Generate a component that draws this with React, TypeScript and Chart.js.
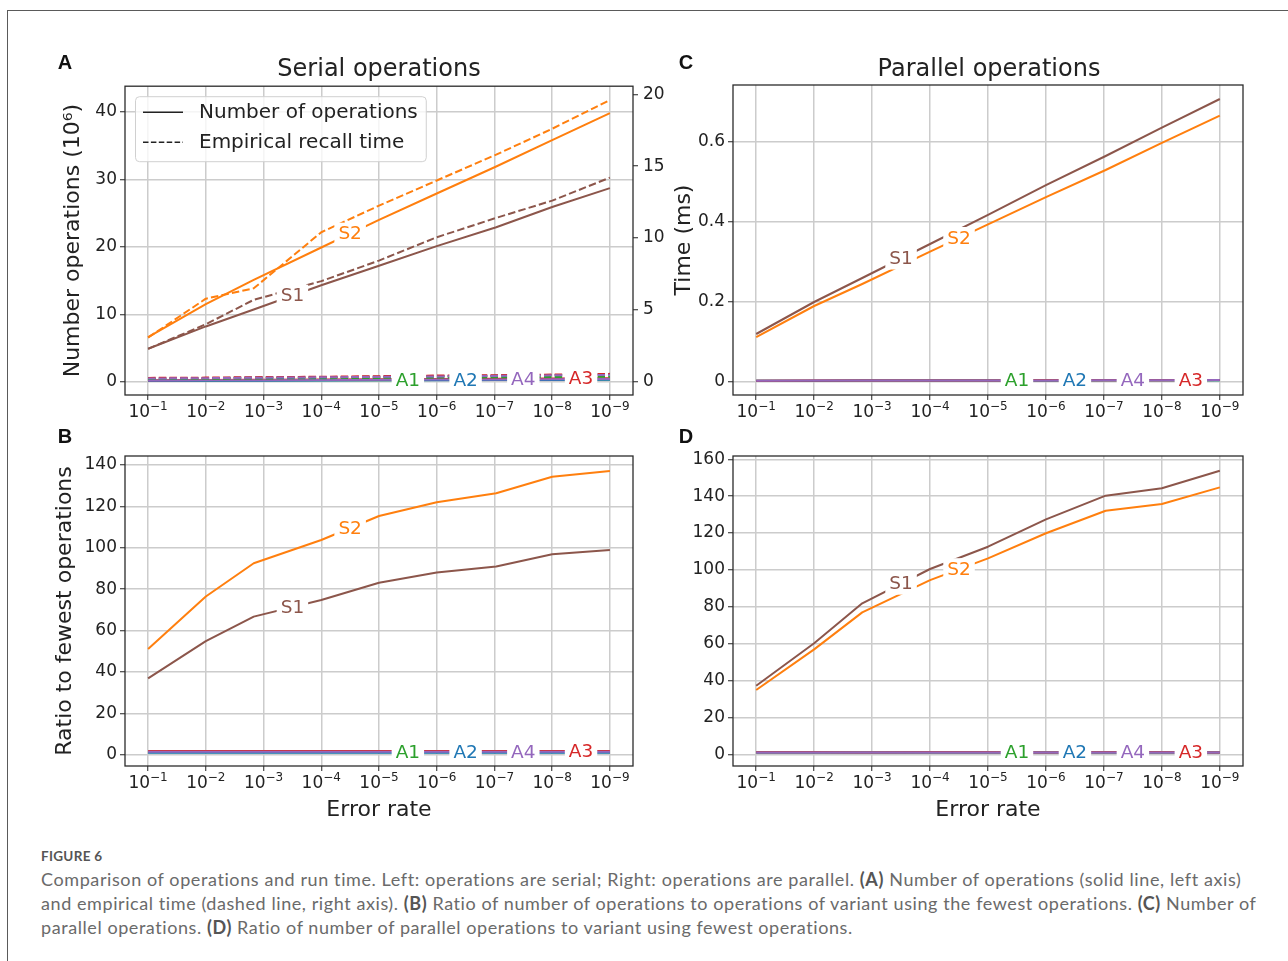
import { useEffect, useLayoutEffect, useRef } from 'react';
import { Chart, registerables } from 'chart.js';

Chart.register(...registerables);

const FONT = '"DejaVu Sans", sans-serif';
const TEXT = '#222222';
const GRID = '#cccccc';

// x = -log10(error rate)
const X = [1, 2, 2.83, 4, 5, 6, 7.03, 8, 9];
const X_TICKS = [1, 2, 3, 4, 5, 6, 7, 8, 9];
const X_TICK_BASE = '10';
const X_TICK_EXP = ['−1', '−2', '−3', '−4', '−5', '−6', '−7', '−8', '−9'];

const COLORS: Record<string, string> = {
  S1: '#8c564b',
  S2: '#ff7f0e',
  A1: '#2ca02c',
  A2: '#1f77b4',
  A3: '#d62728',
  A4: '#9467bd',
};

// Panel A: serial number of operations (10^6), left axis
const A_OPS_A1 = [0.15, 0.17, 0.19, 0.22, 0.24, 0.26, 0.29, 0.31, 0.33];
const A_OPS_A2 = [0.13, 0.15, 0.165, 0.19, 0.21, 0.23, 0.25, 0.27, 0.29];
const A_OPS_A3 = [0.23, 0.27, 0.3, 0.34, 0.38, 0.41, 0.45, 0.49, 0.52];
const A_OPS_A4 = [0.18, 0.21, 0.23, 0.27, 0.29, 0.32, 0.35, 0.38, 0.41];
const A_OPS_S1 = [4.9, 8.2, 10.7, 14.3, 17.2, 20.1, 22.9, 25.9, 28.7];
const A_OPS_S2 = [6.6, 11.5, 15.1, 19.9, 24.0, 27.9, 31.9, 35.8, 39.8];
// Panel A: empirical recall time (ms), right axis
const A_TIME_A1 = [0.2, 0.21, 0.23, 0.25, 0.27, 0.29, 0.31, 0.33, 0.35];
const A_TIME_A2 = [0.24, 0.26, 0.29, 0.32, 0.35, 0.39, 0.43, 0.47, 0.52];
const A_TIME_A3 = [0.27, 0.29, 0.32, 0.35, 0.39, 0.43, 0.46, 0.5, 0.55];
const A_TIME_A4 = [0.23, 0.25, 0.28, 0.31, 0.34, 0.37, 0.41, 0.45, 0.48];
const A_TIME_S1 = [2.29, 4.0, 5.7, 7.0, 8.43, 10.05, 11.4, 12.6, 14.2];
const A_TIME_S2 = [3.07, 5.78, 6.5, 10.4, 12.25, 14.0, 15.8, 17.6, 19.6];

// Panel B: ratio to fewest serial operations
const B_A1 = [1.15, 1.13, 1.15, 1.16, 1.14, 1.13, 1.16, 1.15, 1.14];
const B_A2 = [1, 1, 1, 1, 1, 1, 1, 1, 1];
const B_A3 = [1.8, 1.8, 1.82, 1.79, 1.81, 1.78, 1.8, 1.81, 1.79];
const B_A4 = [1.4, 1.4, 1.39, 1.42, 1.38, 1.39, 1.4, 1.41, 1.41];
const B_S1 = [36.9, 54.9, 66.7, 74.7, 83.1, 88.0, 90.9, 96.8, 98.9];
const B_S2 = [51.1, 76.4, 92.5, 103.7, 115.3, 122.0, 126.3, 134.3, 137.1];

// Panel C: parallel operations
const C_A1 = [0.0032, 0.0034, 0.0035, 0.0036, 0.0038, 0.0039, 0.0041, 0.0044, 0.0046];
const C_A2 = [0.0032, 0.0034, 0.0035, 0.0036, 0.0038, 0.0039, 0.0041, 0.0044, 0.0046];
const C_A3 = [0.0034, 0.0036, 0.0037, 0.0038, 0.004, 0.0041, 0.0043, 0.0046, 0.0048];
const C_A4 = [0.0033, 0.0035, 0.0036, 0.0037, 0.0039, 0.004, 0.0042, 0.0045, 0.0047];
const C_S1 = [0.12, 0.2, 0.26, 0.345, 0.418, 0.492, 0.565, 0.636, 0.7075];
const C_S2 = [0.112, 0.19, 0.245, 0.326, 0.394, 0.462, 0.53, 0.598, 0.666];

// Panel D: ratio to fewest parallel operations
const D_A1 = [1, 1, 1, 1, 1, 1, 1, 1, 1];
const D_A2 = [1, 1, 1, 1, 1, 1, 1, 1, 1];
const D_A3 = [1.05, 1.05, 1.04, 1.05, 1.05, 1.04, 1.05, 1.05, 1.04];
const D_A4 = [1.02, 1.02, 1.02, 1.03, 1.02, 1.02, 1.02, 1.03, 1.02];
const D_S1 = [37.2, 60.2, 81.9, 100.5, 112.6, 127.4, 140.3, 144.3, 153.8];
const D_S2 = [34.9, 56.9, 77.0, 94.5, 106.3, 119.9, 132.1, 135.8, 144.8];

// Axis ticks
const A_Y_TICKS = [0, 10, 20, 30, 40];
const A_Y2_TICKS = [0, 5, 10, 15, 20];
const B_Y_TICKS = [0, 20, 40, 60, 80, 100, 120, 140];
const C_Y_TICKS = [0, 0.2, 0.4, 0.6];
const C_Y_TICK_LABELS = ['0', '0.2', '0.4', '0.6'];
const D_Y_TICKS = [0, 20, 40, 60, 80, 100, 120, 140, 160];

// Inline line labels (name, position along x)
const LABEL_NAMES = ['S1', 'S2', 'A1', 'A2', 'A4', 'A3'];
const LABEL_X = [3.5, 4.5, 5.5, 6.5, 7.5, 8.5];

const LEGEND_LABELS = ['Number of operations', 'Empirical recall time'];

const TITLE_A = 'Serial operations';
const TITLE_C = 'Parallel operations';
const Y_TITLE_A = 'Number operations (10⁶)';
const Y2_TITLE_A = 'Time (ms)';
const Y_TITLE_B = 'Ratio to fewest operations';
const X_TITLE = 'Error rate';

const CAPTION_HEAD = 'FIGURE 6';
const CAPTION_TARGET_WIDTHS = [1201, 1217, 813];

const tickFont = { family: FONT, size: 17, lineHeight: 1.2 };
const axisTitleFont = { family: FONT, size: 22, lineHeight: 1.2 };

function line(name: string, values: number[], axis = 'y', dashed = false) {
  return {
    label: dashed ? name + ' time' : name,
    data: X.map((x, i) => ({ x, y: values[i] })),
    borderColor: COLORS[name],
    backgroundColor: COLORS[name],
    borderWidth: 2,
    borderDash: dashed ? [7.5, 3.2] : [],
    borderJoinStyle: 'round',
    pointRadius: 0,
    pointHoverRadius: 0,
    tension: 0,
    fill: false,
    yAxisID: axis,
  };
}

function withOrder(list: any[]) {
  return list.map((d, i) => ({ ...d, order: list.length - i }));
}

function xScale(height: number, showTitle: boolean) {
  return {
    type: 'linear',
    position: 'bottom',
    min: 0.6,
    max: 9.4,
    afterBuildTicks: (s: any) => {
      s.ticks = X_TICKS.map((v) => ({ value: v }));
    },
    afterFit: (s: any) => {
      s.height = height;
    },
    ticks: {
      display: false,
      autoSkip: false,
      maxRotation: 0,
      minRotation: 0,
    },
    grid: { color: GRID, lineWidth: 1.5, tickColor: TEXT, tickLength: 5, tickWidth: 1 },
    border: { display: false },
    title: {
      display: showTitle,
      text: X_TITLE,
      font: axisTitleFont,
      color: TEXT,
      padding: { top: 0, bottom: 0 },
    },
  };
}

function yScale(
  min: number,
  max: number,
  ticks: number[],
  labels: string[] | null,
  width: number,
  title: string | null,
  titlePad: number
) {
  return {
    type: 'linear',
    position: 'left',
    min,
    max,
    afterBuildTicks: (s: any) => {
      s.ticks = ticks.map((v) => ({ value: v }));
    },
    afterFit: (s: any) => {
      s.width = width;
    },
    ticks: {
      callback: (v: any, i: number) => (labels ? labels[i] : String(v)),
      font: tickFont,
      color: TEXT,
      padding: 3,
      autoSkip: false,
    },
    grid: { color: GRID, lineWidth: 1.5, tickColor: TEXT, tickLength: 5, tickWidth: 1 },
    border: { display: false },
    title: {
      display: !!title,
      text: title || '',
      font: axisTitleFont,
      color: TEXT,
      padding: { top: titlePad, bottom: 0 },
    },
  };
}

function interpolate(data: { x: number; y: number }[], x: number) {
  for (let i = 0; i < data.length - 1; i++) {
    if (x >= data[i].x && x <= data[i + 1].x) {
      const t = (x - data[i].x) / (data[i + 1].x - data[i].x);
      return data[i].y + t * (data[i + 1].y - data[i].y);
    }
  }
  return data[data.length - 1].y;
}

function lineLabelsPlugin() {
  return {
    id: 'lineLabels',
    afterDatasetsDraw(chart: any) {
      const ctx = chart.ctx as CanvasRenderingContext2D;
      ctx.save();
      ctx.font = `18.5px ${FONT}`;
      ctx.textAlign = 'center';
      ctx.textBaseline = 'middle';
      LABEL_NAMES.forEach((name, k) => {
        const ds = chart.data.datasets.find((d: any) => d.label === name);
        if (!ds) return;
        const xv = LABEL_X[k];
        const yv = interpolate(ds.data, xv);
        const px = chart.scales.x.getPixelForValue(xv);
        const py = chart.scales[ds.yAxisID].getPixelForValue(yv);
        const w = ctx.measureText(name).width;
        ctx.fillStyle = '#ffffff';
        ctx.fillRect(px - w / 2 - 4, py - 11, w + 8, 22);
        ctx.fillStyle = ds.borderColor;
        ctx.fillText(name, px, py + 1);
      });
      ctx.restore();
    },
  };
}

// x tick labels drawn as "10" with a raised, smaller exponent (like mathtext)
const xTickLabelsPlugin = {
  id: 'xTickLabels',
  afterDraw(chart: any) {
    const ctx = chart.ctx as CanvasRenderingContext2D;
    const xs = chart.scales.x;
    const baseY = chart.chartArea.bottom + 22;
    ctx.save();
    ctx.fillStyle = TEXT;
    ctx.textBaseline = 'alphabetic';
    ctx.textAlign = 'left';
    X_TICKS.forEach((v, i) => {
      const px = xs.getPixelForValue(v);
      ctx.font = `17px ${FONT}`;
      const wb = ctx.measureText(X_TICK_BASE).width;
      ctx.font = `12px ${FONT}`;
      const ws = ctx.measureText(X_TICK_EXP[i]).width;
      const left = px - (wb + ws) / 2;
      ctx.font = `17px ${FONT}`;
      ctx.fillText(X_TICK_BASE, left, baseY);
      ctx.font = `12px ${FONT}`;
      ctx.fillText(X_TICK_EXP[i], left + wb, baseY - 7.5);
    });
    ctx.restore();
  },
};

const framePlugin = {
  id: 'frame',
  afterDraw(chart: any) {
    const { ctx, chartArea: ca } = chart;
    ctx.save();
    ctx.strokeStyle = '#2b2b2b';
    ctx.lineWidth = 1.3;
    ctx.strokeRect(ca.left, ca.top, ca.right - ca.left, ca.bottom - ca.top);
    ctx.restore();
  },
};

const legendPlugin = {
  id: 'serialLegend',
  afterDraw(chart: any) {
    const { chartArea: ca } = chart;
    const ctx = chart.ctx as CanvasRenderingContext2D;
    ctx.save();
    ctx.font = `20px ${FONT}`;
    const tw = Math.max(...LEGEND_LABELS.map((t) => ctx.measureText(t).width));
    const bx = ca.left + 10;
    const by = ca.top + 10;
    const bw = 8 + 40 + 16 + tw + 8;
    const bh = 65;
    ctx.beginPath();
    if ((ctx as any).roundRect) (ctx as any).roundRect(bx + 0.5, by + 0.5, bw, bh, 4);
    else ctx.rect(bx + 0.5, by + 0.5, bw, bh);
    ctx.fillStyle = 'rgba(255,255,255,0.8)';
    ctx.fill();
    ctx.strokeStyle = '#d0d0d0';
    ctx.lineWidth = 1;
    ctx.stroke();
    LEGEND_LABELS.forEach((t, i) => {
      const cy = by + 16 + i * 30;
      ctx.beginPath();
      ctx.setLineDash(i === 0 ? [] : [5.5, 2.4]);
      ctx.strokeStyle = '#222';
      ctx.lineWidth = 1.6;
      ctx.moveTo(bx + 8, cy);
      ctx.lineTo(bx + 48, cy);
      ctx.stroke();
      ctx.setLineDash([]);
      ctx.fillStyle = TEXT;
      ctx.textBaseline = 'middle';
      ctx.textAlign = 'left';
      ctx.fillText(t, bx + 64, cy + 1);
    });
    ctx.restore();
  },
};

function baseOptions(padding: any, scales: any) {
  return {
    responsive: false,
    maintainAspectRatio: false,
    animation: false,
    events: [],
    layout: { padding },
    plugins: { legend: { display: false }, tooltip: { enabled: false }, title: { display: false } },
    scales,
  };
}

function configA(): any {
  const datasets = withOrder([
    line('A1', A_OPS_A1),
    line('A2', A_OPS_A2),
    line('A3', A_OPS_A3),
    line('A4', A_OPS_A4),
    line('S1', A_OPS_S1),
    line('S2', A_OPS_S2),
    line('A1', A_TIME_A1, 'y2', true),
    line('A2', A_TIME_A2, 'y2', true),
    line('A3', A_TIME_A3, 'y2', true),
    line('A4', A_TIME_A4, 'y2', true),
    line('S1', A_TIME_S1, 'y2', true),
    line('S2', A_TIME_S2, 'y2', true),
  ]);
  const y2: any = yScale(-0.92, 20.56, A_Y2_TICKS, null, 57, null, 0);
  y2.position = 'right';
  y2.grid = { ...y2.grid, drawOnChartArea: false };
  y2.ticks = { ...y2.ticks, padding: 5 };
  return {
    type: 'line',
    data: { datasets },
    options: baseOptions(
      { top: 14, left: 0, right: 0, bottom: 0 },
      {
        x: xScale(30, false),
        y: yScale(-1.96, 43.8, A_Y_TICKS, null, 95, Y_TITLE_A, 30),
        y2,
      }
    ),
    plugins: [lineLabelsPlugin(), xTickLabelsPlugin, framePlugin, legendPlugin],
  };
}

function configB(): any {
  const datasets = withOrder([
    line('A1', B_A1),
    line('A2', B_A2),
    line('A3', B_A3),
    line('A4', B_A4),
    line('S1', B_S1),
    line('S2', B_S2),
  ]);
  return {
    type: 'line',
    data: { datasets },
    options: baseOptions(
      { top: 14, left: 0, right: 37, bottom: 0 },
      {
        x: xScale(57, true),
        y: yScale(-5.46, 144.3, B_Y_TICKS, null, 95, Y_TITLE_B, 22),
      }
    ),
    plugins: [lineLabelsPlugin(), xTickLabelsPlugin, framePlugin],
  };
}

function configC(): any {
  const datasets = withOrder([
    line('A1', C_A1),
    line('A2', C_A2),
    line('A3', C_A3),
    line('A4', C_A4),
    line('S1', C_S1),
    line('S2', C_S2),
  ]);
  return {
    type: 'line',
    data: { datasets },
    options: baseOptions(
      { top: 14, left: 0, right: 27, bottom: 0 },
      {
        x: xScale(30, false),
        y: yScale(-0.0325, 0.7425, C_Y_TICKS, C_Y_TICK_LABELS, 53, null, 0),
      }
    ),
    plugins: [lineLabelsPlugin(), xTickLabelsPlugin, framePlugin],
  };
}

function configD(): any {
  const datasets = withOrder([
    line('A1', D_A1),
    line('A2', D_A2),
    line('A3', D_A3),
    line('A4', D_A4),
    line('S1', D_S1),
    line('S2', D_S2),
  ]);
  return {
    type: 'line',
    data: { datasets },
    options: baseOptions(
      { top: 14, left: 0, right: 27, bottom: 0 },
      {
        x: xScale(57, true),
        y: yScale(-6.35, 161.8, D_Y_TICKS, null, 53, null, 0),
      }
    ),
    plugins: [lineLabelsPlugin(), xTickLabelsPlugin, framePlugin],
  };
}

const abs = (left: number, top: number): React.CSSProperties => ({
  position: 'absolute',
  left,
  top,
});

const centered = (x: number, y: number, extra: React.CSSProperties = {}): React.CSSProperties => ({
  position: 'absolute',
  left: x,
  top: y,
  transform: 'translate(-50%, -50%)',
  whiteSpace: 'nowrap',
  lineHeight: 1,
  ...extra,
});

export default function App() {
  const refA = useRef<HTMLCanvasElement>(null);
  const refB = useRef<HTMLCanvasElement>(null);
  const refC = useRef<HTMLCanvasElement>(null);
  const refD = useRef<HTMLCanvasElement>(null);
  const capRefs = useRef<(HTMLSpanElement | null)[]>([]);

  useEffect(() => {
    Chart.defaults.font.family = FONT;
    Chart.defaults.color = TEXT;
    const charts = [
      new Chart(refA.current!, configA()),
      new Chart(refB.current!, configB()),
      new Chart(refC.current!, configC()),
      new Chart(refD.current!, configD()),
    ];
    return () => charts.forEach((c) => c.destroy());
  }, []);

  useLayoutEffect(() => {
    const fit = () => {
      CAPTION_TARGET_WIDTHS.forEach((target, i) => {
        const el = capRefs.current[i];
        if (!el) return;
        el.style.letterSpacing = '0px';
        const w = el.getBoundingClientRect().width;
        const n = (el.textContent || '').length;
        if (n > 0) el.style.letterSpacing = `${(target - w) / n}px`;
      });
    };
    fit();
    if ((document as any).fonts && (document as any).fonts.ready) {
      (document as any).fonts.ready.then(fit);
    }
  }, []);

  const letter: React.CSSProperties = {
    fontFamily: '"Liberation Sans", Arial, sans-serif',
    fontWeight: 700,
    fontSize: 20,
    color: '#111',
  };
  const title: React.CSSProperties = { fontFamily: FONT, fontSize: 24, color: TEXT };
  const caption: React.CSSProperties = {
    fontFamily: 'Lato, "Noto Sans", sans-serif',
    fontSize: 18,
    color: '#6a6a6a',
    lineHeight: '24px',
    whiteSpace: 'nowrap',
  };
  const capLine: React.CSSProperties = { display: 'inline-block', whiteSpace: 'nowrap' };
  const bold: React.CSSProperties = { fontWeight: 700, color: '#555' };

  return (
    <div
      style={{
        position: 'absolute',
        left: 0,
        top: 0,
        width: 1288,
        height: 961,
        overflow: 'hidden',
        background: '#fff',
      }}
    >
      <div
        style={{
          ...abs(7, 10),
          width: 1400,
          height: 1000,
          borderLeft: '1px solid #5a5a5a',
          borderTop: '1px solid #5a5a5a',
        }}
      />
      <canvas ref={refA} width={660} height={354} style={abs(30, 71)} />
      <canvas ref={refC} width={590} height={354} style={abs(680, 71)} />
      <canvas ref={refB} width={640} height={381} style={abs(30, 442)} />
      <canvas ref={refD} width={590} height={381} style={abs(680, 442)} />

      <div style={centered(65, 62, letter)}>A</div>
      <div style={centered(686, 62, letter)}>C</div>
      <div style={centered(65, 436, letter)}>B</div>
      <div style={centered(686, 436, letter)}>D</div>

      <div style={centered(379, 68, title)}>{TITLE_A}</div>
      <div style={centered(989, 68, title)}>{TITLE_C}</div>
      <div
        style={{
          ...centered(683, 240, { fontFamily: FONT, fontSize: 22, color: TEXT }),
          transform: 'translate(-50%, -50%) rotate(-90deg)',
        }}
      >
        {Y2_TITLE_A}
      </div>

      <div
        style={{
          ...abs(41, 848),
          fontFamily: 'Lato, "Noto Sans", sans-serif',
          fontSize: 13.5,
          fontWeight: 700,
          color: '#555',
          lineHeight: '16px',
          letterSpacing: '0.3px',
        }}
      >
        {CAPTION_HEAD}
      </div>
      <div style={{ ...abs(41, 867), ...caption }}>
        <div>
          <span style={capLine} ref={(el) => (capRefs.current[0] = el)}>
            Comparison of operations and run time. Left: operations are serial; Right: operations are parallel.{' '}
            <span style={bold}>(A)</span> Number of operations (solid line, left axis)
          </span>
        </div>
        <div>
          <span style={capLine} ref={(el) => (capRefs.current[1] = el)}>
            and empirical time (dashed line, right axis). <span style={bold}>(B)</span> Ratio of number of operations
            to operations of variant using the fewest operations. <span style={bold}>(C)</span> Number of
          </span>
        </div>
        <div>
          <span style={capLine} ref={(el) => (capRefs.current[2] = el)}>
            parallel operations. <span style={bold}>(D)</span> Ratio of number of parallel operations to variant
            using fewest operations.
          </span>
        </div>
      </div>
    </div>
  );
}
